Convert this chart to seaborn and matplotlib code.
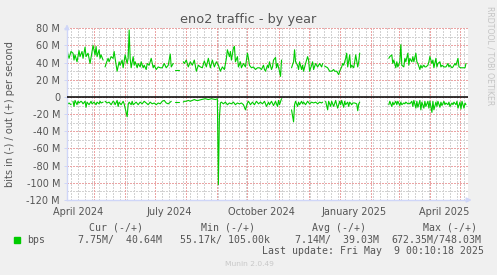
import numpy as np
import pandas as pd
import matplotlib
matplotlib.use("Agg")
import matplotlib.pyplot as plt
import matplotlib.dates as mdates
from matplotlib.ticker import MultipleLocator, FuncFormatter
from matplotlib.patches import Rectangle
import seaborn as sns

nan = np.nan

# ---- data (days after 2024-03-31, values in Mbit/s) ----
out_days = [4,5,6,8,10,11,12,14,16,17,
            19,20,22,23,25,27,29,30,32,33,
            34,36,37,38,40,41,42,43,45,46,
            48,50,51,52,54,56,57,59,60,62,
            64,65,66,67,68,70,71,72,74,75,
            77,78,80,81,83,84,86,88,90,91,
            93,95,97,99,101,103,105,107,108,110,
            111,112,114,116,117,120,121,123,125,127,
            129,131,133,135,137,139,141,143,145,147,
            149,151,153,155,157,159,161,163,164,166,
            167,168,170,171,172,174,175,177,178,180,
            182,184,185,186,188,190,192,194,196,198,
            200,201,202,204,205,206,208,209,210,212,
            213,214,216,217,218,219,228,230,231,232,
            234,235,236,238,239,240,242,244,245,246,
            248,249,250,252,254,256,258,259,260,261,
            264,266,268,270,271,273,275,276,278,279,
            280,282,283,284,286,287,288,290,291,292,
            294,295,296,297,325,326,328,329,330,332,
            333,334,336,337,338,340,341,342,344,345,
            346,348,349,350,352,353,354,356,357,358,
            360,361,362,364,365,366,368,369,370,372,
            373,374,376,377,378,380,382,384,385,386,
            388,389,391,392,394,395,397,399,401,402]
out_mbps = [56,49,45,53,51,43,49,41,54,47,
            53,45,58,47,51,39,53,60,49,59,
            47,55,45,49,43,nan,35,39,45,41,
            47,45,53,45,30,41,37,43,34,49,
            39,45,78,45,34,47,37,41,34,39,
            35,41,34,37,32,39,37,45,34,37,
            32,35,34,34,39,34,37,50,35,39,
            nan,32,32,32,nan,41,39,43,35,41,
            37,43,30,37,35,34,42,35,45,34,
            43,35,41,37,30,35,32,45,55,47,
            53,43,57,59,41,47,35,41,34,39,
            35,51,45,37,34,35,32,34,34,32,
            37,32,30,37,34,41,32,35,43,46,
            34,39,30,24,43,nan,34,41,55,41,
            37,32,41,32,37,30,39,47,43,30,
            37,41,32,39,35,39,35,39,nan,36,
            34,30,30,32,30,30,26,30,35,39,
            37,45,51,35,49,34,37,34,41,49,
            35,41,51,nan,45,47,49,39,43,34,
            41,35,41,61,37,35,45,41,51,37,
            45,41,47,41,51,41,39,32,37,34,
            37,35,35,37,41,47,39,43,34,45,
            35,39,41,35,37,35,35,39,35,37,
            34,35,39,37,45,35,34,34,34,39]

in_days = [4,6,8,9,10,11,12,14,15,16,
           18,19,20,22,23,24,26,28,29,31,
           33,34,36,37,38,40,41,42,44,46,
           48,50,51,52,54,55,56,58,60,61,
           62,64,65,66,68,69,70,72,73,75,
           77,79,81,83,85,87,89,91,93,95,
           97,99,101,103,105,107,108,111,112,114,
           116,117,120,121,123,125,127,129,131,133,
           135,138,142,145,148,152,154,155,156,157,
           158,160,162,164,166,168,170,172,174,176,
           178,180,182,184,185,187,189,191,193,195,
           197,199,201,203,205,206,208,210,212,214,
           215,216,218,219,228,230,231,232,234,235,
           236,238,239,240,242,244,246,248,250,252,
           254,256,258,259,260,262,264,265,267,268,
           270,272,273,274,276,277,278,280,281,282,
           284,285,286,288,289,291,293,294,295,296,
           297,325,326,328,329,330,332,333,334,336,
           337,338,340,341,342,344,345,346,348,349,
           350,352,353,354,356,357,358,360,361,362,
           364,365,366,368,369,370,372,373,374,376,
           377,378,380,381,382,384,385,386,388,389,
           390,392,393,394,396,397,398,400,401,402]
in_mbps = [-9,-7,-9,nan,-5,-11,-4,-9,-5,-7,
           -5,-6,-8,-5,-12,-6,-9,-5,-8,-6,
           -9,-6,-8,-5,-7,-6,nan,-5,-7,-6,
           -9,-5,-6,-9,-4,-11,-6,-9,-5,-8,
           -13,-23,-9,-6,-9,-5,-9,-7,-6,-9,
           -6,-8,-5,-7,-9,-6,-8,-7,-9,-7,
           -8,-5,-4,-7,-8,-6,-5,nan,-6,-6,
           -6,nan,-6,-5,-5,-4,-5,-4,-3,-4,
           -4,-3,-2,-3,-2,-3,-2,-102,-25,-7,
           -6,-8,-6,-9,-7,-8,-6,-9,-7,-8,
           -7,-9,-15,-7,-5,-9,-6,-9,-5,-8,
           -6,-8,-5,-11,-6,-9,-5,-10,-5,-11,
           -4,-9,-2,nan,-15,-29,-9,-5,-11,-6,
           -9,-5,-8,-6,-9,-5,-8,-6,-7,-6,
           -8,-6,-7,-6,nan,-5,-15,-5,-11,-5,
           -11,-4,-9,-13,-5,-9,-4,-12,-5,-9,
           -6,-11,-6,-9,-7,-7,-8,-16,-8,-6,
           nan,-9,-5,-11,-6,-9,-5,-9,-5,-10,
           -6,-9,-7,-8,-6,-8,-7,-8,-5,-11,
           -4,-13,-5,-12,-4,-15,-6,-13,-5,-11,
           -5,-13,-5,-18,-5,-15,-6,-11,-5,-12,
           -6,-10,-5,-9,-7,-9,-6,-11,-7,-9,
           -6,-9,-5,-13,-6,-14,-5,-13,-7,-9]

y_ticks = [-120, -100, -80, -60, -40, -20, 0, 20, 40, 60, 80]
title = "eno2 traffic - by year"
y_label = "bits in (-) / out (+) per second"
series_label = "bps"
legend_headers = ["Cur (-/+)", "Min (-/+)", "Avg (-/+)", "Max (-/+)"]
legend_values = ["7.75M/  40.64M", "55.17k/ 105.00k", "7.14M/  39.03M", "672.35M/748.03M"]
last_update = "Last update: Fri May  9 00:10:18 2025"
watermark = "Munin 2.0.49"
side_text = "RRDTOOL / TOBI OETIKER"

# ---- style ----
sns.set_theme(style="white")
plt.rcParams["font.family"] = ["DejaVu Sans"]

TXT = "#555555"
AXIS = "#CFD6F8"
GRID = "#D2D2D2"
MGRID = "#EBA5A5"
LINE = "#00CC00"
DOT = (0, (1.4, 1.4))
GLW = 0.72

BASE = pd.Timestamp("2024-03-31")
END = pd.Timestamp("2025-05-09 00:10:18")
START = END - pd.Timedelta(days=400)


def frame(days, vals):
    df = pd.DataFrame({"date": BASE + pd.to_timedelta(days, unit="D"),
                       "value": vals})
    df["seg"] = df["value"].isna().cumsum()
    return df.dropna()


W, H = 497, 275
fig = plt.figure(figsize=(W / 100, H / 100), dpi=100, facecolor="#F0F0F0")
ax = fig.add_axes([67 / W, 1 - 200 / H, 401 / W, 171.7 / H])
ax.set_facecolor("white")

gkw = dict(ls=DOT, lw=GLW, antialiased=False, dash_capstyle="butt")
# vertical grid: weeks (grey) and months (red)
for d in pd.date_range(START.normalize(), END, freq="W-MON"):
    ax.axvline(d, color=GRID, zorder=0.5, **gkw)
for d in pd.date_range(START.normalize(), END, freq="MS"):
    ax.axvline(d, color=MGRID, zorder=0.6, **gkw)

# horizontal grid
ax.yaxis.set_major_locator(MultipleLocator(20))
ax.yaxis.set_minor_locator(MultipleLocator(10))
ax.grid(which="major", axis="y", color=MGRID, zorder=0.6, **gkw)
ax.grid(which="minor", axis="y", color=GRID, zorder=0.5, **gkw)
ax.grid(which="major", axis="x", visible=False)
ax.set_axisbelow(True)

for df in (frame(out_days, out_mbps), frame(in_days, in_mbps)):
    sns.lineplot(data=df, x="date", y="value", units="seg", estimator=None,
                 sort=False, color=LINE, lw=0.8, ax=ax, legend=False, zorder=2)

ax.axhline(0, color="black", lw=1.1, zorder=3)

ax.set_xlim(START, END)
ax.set_ylim(-120, 80)
ax.set_xlabel("")
ax.set_ylabel("")

ax.xaxis.set_major_locator(mdates.MonthLocator(bymonth=[1, 4, 7, 10], bymonthday=15))
ax.xaxis.set_major_formatter(mdates.DateFormatter("%B %Y"))
ax.set_yticks(y_ticks)
ax.yaxis.set_major_formatter(FuncFormatter(lambda v, p: "0" if v == 0 else f"{int(v)} M"))

ax.tick_params(axis="x", which="both", length=0, pad=5, labelsize=7, labelcolor=TXT)
ax.tick_params(axis="y", which="major", length=2, width=0.7, color=AXIS, pad=3,
               labelsize=7, labelcolor=TXT, left=True)
ax.tick_params(axis="y", which="minor", length=0)

for s in ("top", "right"):
    ax.spines[s].set_visible(False)
for s in ("left", "bottom"):
    ax.spines[s].set_color(AXIS)
    ax.spines[s].set_linewidth(1)

ax.annotate("", xy=(1.016, 0), xycoords="axes fraction", xytext=(0.99, 0),
            arrowprops=dict(arrowstyle="-|>", color=AXIS, lw=1, mutation_scale=7),
            annotation_clip=False)
ax.annotate("", xy=(0, 1.04), xycoords="axes fraction", xytext=(0, 0.98),
            arrowprops=dict(arrowstyle="-|>", color=AXIS, lw=1, mutation_scale=7),
            annotation_clip=False)

# texts
fig.text(248 / W, 1 - 19.5 / H, title, ha="center", va="center", fontsize=9.3, color=TXT)
fig.text(10 / W, 1 - 114 / H, y_label, rotation=90, ha="center", va="center",
         fontsize=7, color=TXT)
fig.text(490 / W, 1 - 56 / H, side_text, rotation=270, ha="center", va="center",
         fontsize=5.6, color="#C4C4C4")

MONO = ["DejaVu Sans Mono"]
header_x = [89, 201, 312, 423]
value_x = [78, 180, 295, 391]
for hx, h in zip(header_x, legend_headers):
    fig.text(hx / W, 1 - 228 / H, h, ha="left", va="center", fontsize=7.1,
             color=TXT, family=MONO)
for vx, v in zip(value_x, legend_values):
    fig.text(vx / W, 1 - 240 / H, v, ha="left", va="center", fontsize=7.1,
             color=TXT, family=MONO)
fig.text(27 / W, 1 - 240 / H, series_label, ha="left", va="center", fontsize=7.1,
         color=TXT, family=MONO)
fig.patches.append(Rectangle((14 / W, 1 - 243 / H), 5.5 / W, 6 / H,
                             transform=fig.transFigure, color=LINE))
fig.text(262 / W, 1 - 251 / H, last_update, ha="left", va="center", fontsize=7.1,
         color=TXT, family=MONO)
fig.text(249 / W, 1 - 264 / H, watermark, ha="center", va="center", fontsize=5.4,
         color="#C8C8C8")

fig.savefig("out.png", dpi=100, facecolor=fig.get_facecolor())
